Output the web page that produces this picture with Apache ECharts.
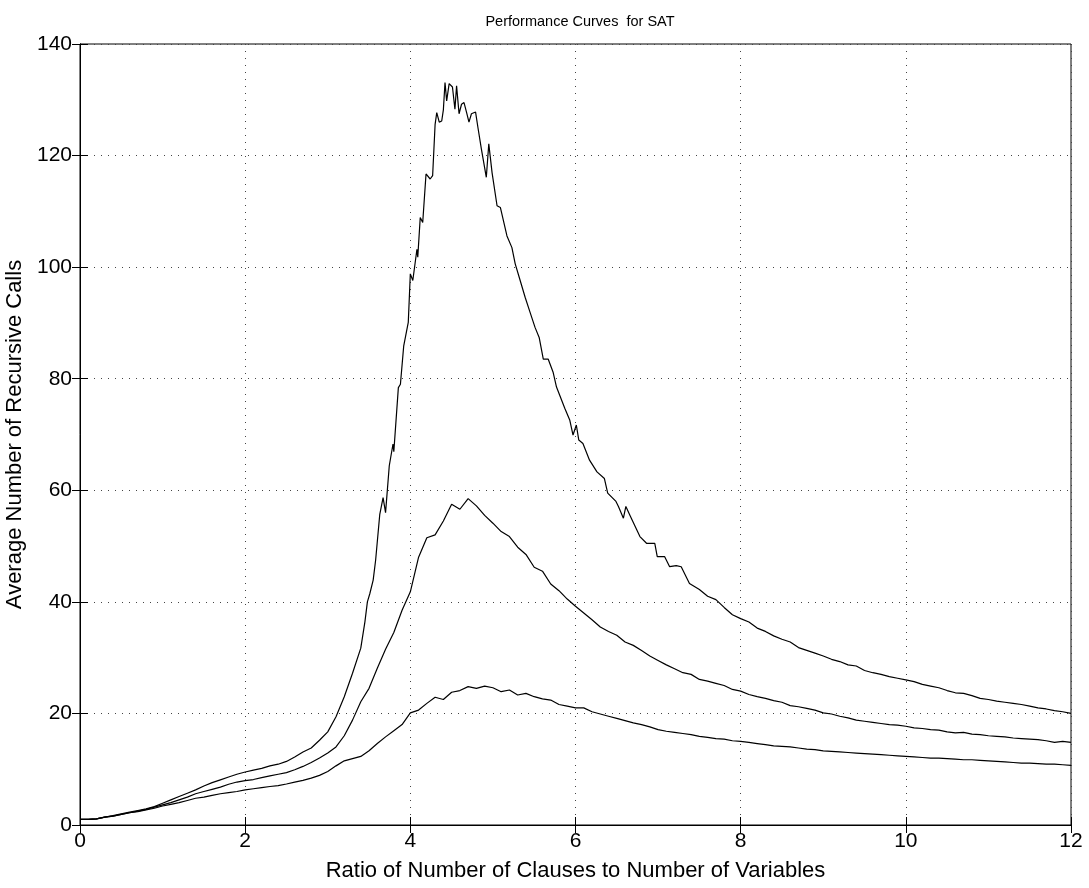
<!DOCTYPE html>
<html>
<head>
<meta charset="utf-8">
<script src="https://cdn.jsdelivr.net/npm/echarts@6/dist/echarts.min.js"></script>
<style>
html,body{margin:0;padding:0;background:#fff;}
#chart{width:1089px;height:888px;}
</style>
</head>
<body>
<div id="chart"></div>
<script>
// Ratio grid (clauses / variables), sampled every 0.1
const ratio = Array.from({length: 121}, (_, i) => +(i * 0.1).toFixed(1));

const xTicks = [0, 2, 4, 6, 8, 10, 12];
const yTicks = [0, 20, 40, 60, 80, 100, 120, 140];

// Upper curve: x positions (denser around the peak)
const ratioHighPeak = [
  3.45,3.48,3.51,3.55,3.58, 3.63,3.67,3.70,3.745,3.79,
  3.80,3.855,3.88,3.92,3.975, 4.0,4.03,4.08,4.09,4.12,
  4.15,4.19,4.24,4.27,4.30, 4.32,4.35,4.38,4.40,4.42,
  4.44,4.47,4.51,4.54,4.56, 4.59,4.62,4.65,4.68,4.71,
  4.74,4.79,4.82,4.86,4.92, 4.95,4.99,5.05,5.09,5.17,
  5.23,5.27,5.33,5.39,5.45, 5.51,5.56,5.61,5.67,5.73,
  5.77,5.81,5.87,5.93,5.97, 6.01,6.04,6.09,6.17,6.26,
  6.35,6.39,6.49,6.52,6.58, 6.61,6.66,6.78,6.86,6.96,
  6.99,7.08,7.14,7.22,7.28, 7.38
];
const ratioHigh = ratio.filter(x => x <= 3.4).concat(ratioHighPeak, ratio.filter(x => x >= 7.5));

const curveHigh = [
  // 0.0 - 3.4
  1.0,1.0,1.1,1.4,1.7,2.0,2.3,2.6,2.9,3.3,
  3.9,4.5,5.1,5.7,6.3,7.0,7.6,8.1,8.6,9.1,
  9.5,9.85,10.15,10.6,10.9,11.4,12.2,13.1,13.8,15.2,
  16.7,19.4,23.0,27.2,31.7,
  // 3.45 - 7.38
  36.4,40.0,41.5,43.9,47.5, 55.7,58.7,56.0,64.4,68.3,
  66.9,78.4,79.0,85.9,90.1, 98.8,97.6,103.2,101.8,108.9,
  108.0,116.7,115.8,116.4,125.6, 127.7,126.0,126.2,128.2,133.1,
  129.8,132.9,132.3,128.3,132.5, 127.5,129.2,129.5,127.8,126.0,
  127.5,127.8,124.9,121.2,116.1, 122.1,116.9,111.0,110.7,105.6,
  103.5,100.6,97.6,94.6,91.9, 89.2,87.4,83.5,83.5,81.1,
  78.5,77.0,74.7,72.6,69.9, 71.7,69.0,68.4,65.4,63.3,
  62.1,59.5,58.0,57.1,55.0, 57.1,55.5,51.7,50.5,50.5,
  48.1,48.1,46.3,46.5,46.3, 43.3,
  // 7.5 - 12.0
  42.2,41.0,40.4,39.0,37.7,
  37.0,36.4,35.3,34.7,33.9,33.3,32.8,31.8,31.3,30.8,
  30.3,29.7,29.3,28.7,28.5,27.7,27.3,27.0,26.6,26.3,
  26.0,25.7,25.2,24.9,24.6,24.1,23.7,23.6,23.2,22.7,
  22.5,22.2,22.0,21.8,21.6,21.3,21.0,20.8,20.5,20.3,
  20.0
];

// Middle curve (on the 0.1 grid)
const curveMid = [
  1.0,1.0,1.1,1.4,1.6,1.9,2.2,2.5,2.8,3.2,
  3.6,4.0,4.5,5.0,5.6,6.0,6.4,6.8,7.3,7.7,
  7.95,8.15,8.5,8.8,9.1,9.4,9.9,10.5,11.2,12.0,
  12.9,14.0,16.0,18.8,22.1,24.5,28.1,31.5,34.5,38.5,
  41.8,48.0,51.5,52.0,54.5,57.5,56.6,58.5,57.2,55.5,
  54.1,52.6,51.7,49.8,48.5,46.2,45.5,43.2,42.0,40.5,
  39.2,38.0,36.8,35.5,34.7,34.0,32.8,32.2,31.3,30.3,
  29.5,28.7,28.0,27.3,27.0,26.1,25.8,25.4,25.0,24.3,
  24.0,23.4,23.0,22.7,22.3,22.0,21.4,21.2,20.9,20.6,
  20.1,19.9,19.5,19.2,18.8,18.6,18.4,18.2,18.0,17.9,
  17.7,17.4,17.3,17.1,17.0,16.7,16.5,16.6,16.3,16.2,
  16.0,15.9,15.8,15.6,15.5,15.4,15.3,15.1,14.8,15.0,
  14.8
];

// Lower curve (on the 0.1 grid)
const curveLow = [
  1.0,1.0,1.1,1.4,1.6,1.9,2.2,2.4,2.7,3.0,
  3.4,3.7,4.0,4.4,4.8,5.0,5.3,5.6,5.8,6.0,
  6.3,6.5,6.7,6.9,7.05,7.35,7.7,8.0,8.4,8.9,
  9.6,10.6,11.5,11.9,12.3,13.3,14.6,15.8,16.9,18.0,
  20.1,20.6,21.8,22.9,22.5,23.8,24.1,24.8,24.5,24.9,
  24.6,23.9,24.2,23.3,23.6,23.0,22.6,22.4,21.6,21.3,
  21.0,21.0,20.3,19.9,19.5,19.1,18.7,18.3,18.0,17.6,
  17.1,16.8,16.6,16.4,16.2,15.9,15.7,15.5,15.4,15.1,
  15.0,14.8,14.6,14.4,14.2,14.1,14.0,13.8,13.6,13.5,
  13.3,13.2,13.1,13.0,12.9,12.8,12.7,12.6,12.5,12.4,
  12.3,12.2,12.1,12.0,12.0,11.9,11.8,11.7,11.7,11.6,
  11.5,11.4,11.3,11.2,11.1,11.1,11.0,10.9,10.9,10.8,
  10.7
];

const titleText = 'Performance Curves  for SAT';
const xName = 'Ratio of Number of Clauses to Number of Variables';
const yName = 'Average Number of Recursive Calls';

const FONT = '"Liberation Sans", Arial, Helvetica, sans-serif';
const pair = (xs, ys) => xs.map((x, i) => [x, ys[i]]);

const chart = echarts.init(document.getElementById('chart'), null, {renderer: 'canvas'});

const gridDots = {show: true, lineStyle: {color: '#444', width: 1, type: [1, 6]}};
const tickIn = {show: true, inside: true, length: 8, lineStyle: {color: '#000', width: 1}};

chart.setOption({
  animation: false,
  backgroundColor: '#fff',
  title: {
    text: titleText, left: 575, top: 9, textAlign: 'center',
    textStyle: {fontFamily: FONT, fontSize: 14.5, fontWeight: 'normal', color: '#000'}
  },
  grid: {left: 80, right: 18, top: 44, bottom: 63, show: true, borderColor: '#000', borderWidth: 1,
         backgroundColor: 'transparent', containLabel: false, outerBoundsMode: 'none'},
  xAxis: [{
    type: 'value', min: xTicks[0], max: xTicks[xTicks.length - 1], interval: xTicks[1] - xTicks[0],
    position: 'bottom',
    name: xName, nameLocation: 'middle', nameGap: 35,
    nameTextStyle: {fontFamily: FONT, fontSize: 22, color: '#000'},
    axisLine: {show: true, lineStyle: {color: '#000', width: 1}},
    axisTick: tickIn,
    axisLabel: {fontFamily: FONT, fontSize: 21, color: '#000', margin: 6},
    splitLine: gridDots
  }, {
    type: 'value', min: xTicks[0], max: xTicks[xTicks.length - 1], interval: xTicks[1] - xTicks[0],
    position: 'top',
    axisLine: {show: true, lineStyle: {color: '#000', width: 1}},
    axisTick: tickIn, axisLabel: {show: false}, splitLine: {show: false}
  }],
  yAxis: [{
    type: 'value', min: yTicks[0], max: yTicks[yTicks.length - 1], interval: yTicks[1] - yTicks[0],
    position: 'left',
    name: yName, nameLocation: 'middle', nameGap: 51, nameRotate: 90,
    nameTextStyle: {fontFamily: FONT, fontSize: 22, color: '#000'},
    axisLine: {show: true, lineStyle: {color: '#000', width: 1}},
    axisTick: tickIn,
    axisLabel: {fontFamily: FONT, fontSize: 21, color: '#000', margin: 8},
    splitLine: gridDots
  }, {
    type: 'value', min: yTicks[0], max: yTicks[yTicks.length - 1], interval: yTicks[1] - yTicks[0],
    position: 'right',
    axisLine: {show: true, lineStyle: {color: '#000', width: 1}},
    axisTick: tickIn, axisLabel: {show: false}, splitLine: {show: false}
  }],
  series: [[ratioHigh, curveHigh], [ratio, curveMid], [ratio, curveLow]].map(([xs, ys]) => ({
    type: 'line', data: pair(xs, ys), xAxisIndex: 0, yAxisIndex: 0,
    showSymbol: false, symbol: 'none', silent: true,
    lineStyle: {color: '#000', width: 1.2}
  }))
});
</script>
</body>
</html>
